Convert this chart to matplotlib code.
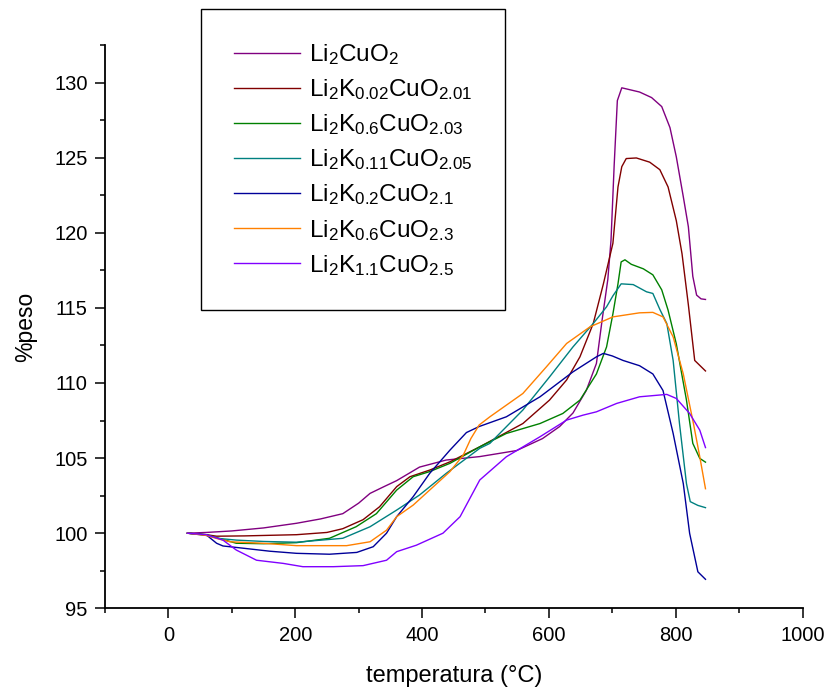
import matplotlib
matplotlib.use("Agg")
import matplotlib.pyplot as plt
from matplotlib.ticker import MultipleLocator

plt.rcParams['font.family'] = ['Liberation Sans', 'DejaVu Sans']
plt.rcParams['mathtext.fontset'] = 'custom'
plt.rcParams['mathtext.rm'] = 'Liberation Sans'
plt.rcParams['mathtext.default'] = 'regular'

# Li2CuO2
t_a = [30, 60, 100, 150, 202, 240, 275, 300, 318, 340, 360, 396, 438, 491, 549, 590, 617,
       638, 659, 675, 684, 693, 698, 703, 708, 715, 743, 762, 778, 791, 801, 812, 820, 827,
       833, 840, 847]
w_a = [100, 100.05, 100.15, 100.35, 100.66, 100.95, 101.3, 102.0, 102.65, 103.1, 103.5, 104.4,
       104.87, 105.1, 105.5, 106.3, 107.1, 108.0, 109.5, 111.3, 114.2, 116.9, 119.5, 124.5,
       128.8, 129.65, 129.37, 129.0, 128.4, 127.0, 125.05, 122.4, 120.4, 117.1, 115.85,
       115.6, 115.56]

# Li2K0.02CuO2.01
t_b = [30, 60, 76, 120, 202, 250, 275, 307, 333, 360, 381, 412, 444, 491, 559, 601, 628, 649,
       670, 686, 701, 709, 715, 722, 738, 759, 775, 788, 801, 810, 820, 830, 847]
w_b = [100, 99.9, 99.8, 99.82, 99.9, 100.05, 100.3, 100.9, 101.76, 103.1, 103.76, 104.2,
       104.75, 105.75, 107.3, 108.86, 110.2, 111.74, 113.96, 116.6, 119.3, 123.05, 124.4,
       124.94, 124.98, 124.7, 124.2, 123.05, 120.8, 118.6, 115.2, 111.5, 110.8]

# Li2K0.6CuO2.03
t_c = [30, 60, 76, 107, 150, 202, 254, 296, 328, 360, 386, 412, 444, 491, 533, 586, 622, 649,
       675, 691, 701, 709, 714, 720, 730, 749, 764, 778, 788, 801, 817, 827, 838, 847]
w_c = [100, 99.9, 99.7, 99.33, 99.3, 99.37, 99.66, 100.43, 101.3, 102.87, 103.76, 104.1,
       104.65, 105.75, 106.64, 107.3, 107.97, 108.86, 110.6, 112.4, 114.6, 116.6, 118.06,
       118.2, 117.9, 117.6, 117.2, 116.2, 114.85, 112.6, 108.86, 105.98, 104.98, 104.73]

# Li2K0.11CuO2.05
t_d = [30, 60, 80, 107, 150, 202, 275, 318, 360, 396, 438, 491, 507, 559, 601, 638, 670, 691,
       701, 714, 733, 754, 764, 775, 786, 796, 806, 817, 823, 835, 847]
w_d = [100, 99.85, 99.65, 99.54, 99.45, 99.4, 99.66, 100.43, 101.54, 102.54, 103.98, 105.65,
       105.98, 108.2, 110.4, 112.4, 113.96, 115.07, 115.8, 116.6, 116.55, 116.07, 115.96,
       114.9, 113.96, 111.5, 107.3, 103.3, 102.1, 101.85, 101.7]

# Li2K0.2CuO2.1
t_e = [30, 60, 76, 86, 118, 160, 202, 254, 297, 323, 344, 360, 386, 412, 444, 470, 490, 533,
       586, 638, 675, 686, 700, 717, 743, 764, 780, 796, 812, 822, 835, 847]
w_e = [100, 99.88, 99.33, 99.15, 99.0, 98.8, 98.66, 98.6, 98.72, 99.1, 100.0, 101.1, 102.43,
       103.98, 105.53, 106.7, 107.1, 107.75, 109.08, 110.74, 111.74, 111.97, 111.8, 111.5,
       111.15, 110.6, 109.5, 106.64, 103.3, 99.99, 97.43, 96.93]

# Li2K0.6CuO2.3
t_f = [30, 60, 76, 97, 149, 202, 281, 318, 344, 360, 386, 412, 444, 465, 477, 490, 507, 559,
       596, 628, 665, 701, 743, 764, 780, 796, 812, 828, 838, 847]
w_f = [100, 99.85, 99.65, 99.43, 99.33, 99.17, 99.17, 99.43, 100.2, 101.1, 101.87, 102.87,
       104.1, 105.2, 106.3, 107.2, 107.75, 109.3, 111.07, 112.63, 113.74, 114.4, 114.67,
       114.7, 114.4, 113.07, 110.6, 107.3, 105.09, 102.96]

# Li2K1.1CuO2.5
t_g = [30, 60, 86, 107, 139, 181, 212, 260, 307, 344, 360, 391, 433, 460, 491, 533, 586, 628,
       654, 675, 707, 743, 786, 801, 822, 838, 847]
w_g = [100, 99.9, 99.54, 98.88, 98.2, 97.99, 97.77, 97.77, 97.84, 98.2, 98.77, 99.2, 100.0,
       101.1, 103.54, 105.09, 106.42, 107.53, 107.86, 108.08, 108.64, 109.08, 109.24, 108.97,
       107.97, 106.86, 105.7]

labels = [r'Li$_2$CuO$_2$',
          r'Li$_2$K$_{0.02}$CuO$_{2.01}$',
          r'Li$_2$K$_{0.6}$CuO$_{2.03}$',
          r'Li$_2$K$_{0.11}$CuO$_{2.05}$',
          r'Li$_2$K$_{0.2}$CuO$_{2.1}$',
          r'Li$_2$K$_{0.6}$CuO$_{2.3}$',
          r'Li$_2$K$_{1.1}$CuO$_{2.5}$']
colors = ['#800080', '#800000', '#008000', '#008080', '#000099', '#ff8000', '#8000ff']
series = [(t_a, w_a), (t_b, w_b), (t_c, w_c), (t_d, w_d), (t_e, w_e), (t_f, w_f), (t_g, w_g)]

fig = plt.figure(figsize=(8.3, 6.94), dpi=100)
ax = fig.add_axes([105 / 830, 1 - 608.3 / 694, 697.5 / 830, 563.3 / 694])

for (t, w), c, lab in zip(series, colors, labels):
    ax.plot(t, w, color=c, lw=1.0, label=lab)

ax.set_xlim(-100, 1000)
ax.set_ylim(95, 132.5)
ax.xaxis.set_major_locator(MultipleLocator(200))
ax.xaxis.set_minor_locator(MultipleLocator(100))
ax.yaxis.set_major_locator(MultipleLocator(5))
ax.yaxis.set_minor_locator(MultipleLocator(2.5))

for s in ['top', 'right']:
    ax.spines[s].set_visible(False)
for s in ['left', 'bottom']:
    ax.spines[s].set_linewidth(1.3)

ax.tick_params(which='major', direction='out', length=7.5, width=1.1, labelsize=14.5, pad=5)
ax.tick_params(which='minor', direction='out', length=3.8, width=1.1)

ax.set_xlabel('temperatura (°C)', fontsize=17)
ax.set_ylabel('%peso', fontsize=16.5)
ax.xaxis.set_label_coords(0.5, -0.1)
ax.yaxis.set_label_coords(-0.097, 0.5)

leg = ax.legend(loc='upper left', bbox_to_anchor=(200.7 / 830, 1 - 9.3 / 694),
                bbox_transform=fig.transFigure, fontsize=17.5, frameon=True, fancybox=False,
                handlelength=2.75, handletextpad=0.35, labelspacing=0.42, borderpad=1.35,
                borderaxespad=0)
leg.get_frame().set_edgecolor('black')
leg.get_frame().set_linewidth(1.0)
leg.get_frame().set_alpha(1)

fig.savefig('out.png', dpi=100)
